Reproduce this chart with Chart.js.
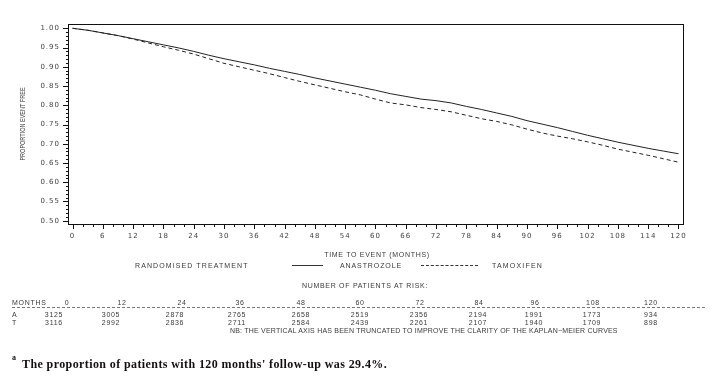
<!DOCTYPE html>
<html><head><meta charset="utf-8">
<script src="https://cdn.jsdelivr.net/npm/chart.js@4"></script>
<style>
html,body{margin:0;padding:0;background:#fff;}
#wrap{position:relative;width:716px;height:381px;overflow:hidden;background:#fff;}
#c{position:absolute;left:0;top:0;}
.t{position:absolute;font-family:"Liberation Sans",Arial,sans-serif;font-size:7px;color:#3a3a3a;white-space:nowrap;letter-spacing:0.7px;line-height:7px;}
.c{transform:translateX(-50%);}
.ln{position:absolute;height:0;}
#foot{position:absolute;left:22px;top:357px;font-family:"Liberation Serif","Times New Roman",serif;font-weight:bold;font-size:12px;color:#151010;white-space:nowrap;letter-spacing:0.4px;}
#sup{position:absolute;left:12px;top:353px;font-family:"Liberation Serif",serif;font-weight:bold;font-size:8px;color:#151010;}
#ytitle{position:absolute;left:22px;top:124px;font-family:"Liberation Sans Narrow","Liberation Sans",sans-serif;font-size:6.5px;color:#3a3a3a;white-space:nowrap;transform:translate(-50%,-50%) rotate(-90deg) scaleX(0.85);}
</style>
</head><body>
<div id="wrap">
<canvas id="c" width="716" height="381"></canvas>
<div id="ytitle">PROPORTION EVENT FREE</div>
<div class="t c" style="left:377px;top:251px;">TIME TO EVENT (MONTHS)</div>
<div class="t" style="left:135px;top:262px;letter-spacing:1.1px;">RANDOMISED TREATMENT</div>
<div class="ln" style="left:292px;top:265px;width:31px;border-top:1px solid #333;"></div>
<div class="t" style="left:340px;top:262px;letter-spacing:0.9px;">ANASTROZOLE</div>
<div class="ln" style="left:421px;top:265px;width:57px;border-top:1px dashed #333;"></div>
<div class="t" style="left:492px;top:262px;letter-spacing:1.2px;">TAMOXIFEN</div>
<div class="t c" style="left:365px;top:282px;">NUMBER OF PATIENTS AT RISK:</div>
<div id="table"></div>
<div class="ln" style="left:12px;top:307px;width:693px;border-top:1px dashed #777;"></div>
<div class="t" style="left:230px;top:327px;letter-spacing:0.2px;">NB: THE VERTICAL AXIS HAS BEEN TRUNCATED TO IMPROVE THE CLARITY OF THE KAPLAN−MEIER CURVES</div>
<div id="sup">a</div>
<div id="foot">The proportion of patients with 120 months' follow-up was 29.4%.</div>
</div>
<script>
// ---- data ----
const months = [0,3,6,9,12,15,18,21,24,27,30,33,36,39,42,45,48,51,54,57,60,63,66,69,72,75,78,81,84,87,90,93,96,99,102,105,108,111,114,117,120];
const anastrozole = [1.000,0.995,0.988,0.981,0.973,0.965,0.957,0.949,0.940,0.930,0.921,0.913,0.905,0.896,0.888,0.880,0.871,0.863,0.855,0.847,0.839,0.830,0.823,0.816,0.812,0.806,0.797,0.789,0.780,0.771,0.760,0.751,0.742,0.732,0.722,0.713,0.704,0.696,0.688,0.681,0.674];
const tamoxifen   = [1.000,0.995,0.988,0.981,0.972,0.962,0.952,0.943,0.933,0.921,0.909,0.900,0.891,0.882,0.872,0.862,0.853,0.844,0.835,0.827,0.816,0.806,0.801,0.794,0.789,0.783,0.774,0.765,0.758,0.749,0.738,0.728,0.720,0.713,0.705,0.696,0.686,0.678,0.670,0.661,0.652];
const seriesNames = ['ANASTROZOLE','TAMOXIFEN'];
const riskMonths = [0,12,24,36,48,60,72,84,96,108,120];
const riskA = [3125,3005,2878,2765,2658,2519,2356,2194,1991,1773,934];
const riskT = [3116,2992,2836,2711,2584,2439,2261,2107,1940,1709,898];
const rowLabels = ['A','T'];

// ---- layout for the at-risk table (positions only) ----
const headerX = [67,122,182,240,301,360,420,479,535,593,651];
const valueX  = [54,111,175,237,301,360,419,478,534,592,651];
const tbl = document.getElementById('table');
function addText(txt, x, y, center){
  const d = document.createElement('div');
  d.className = 't' + (center ? ' c' : '');
  d.style.left = x + 'px'; d.style.top = y + 'px';
  d.textContent = txt; tbl.appendChild(d);
}
addText('MONTHS', 12, 299, false);
riskMonths.forEach((m,i)=>addText(String(m), headerX[i], 299, true));
addText(rowLabels[0], 12, 311, false);
addText(rowLabels[1], 12, 319, false);
riskA.forEach((v,i)=>addText(String(v), valueX[i], 311, true));
riskT.forEach((v,i)=>addText(String(v), valueX[i], 319, true));

// ---- chart ----
const frame = {
  id:'frame',
  beforeDraw(chart){ chart.ctx.letterSpacing = '1px'; },
  beforeDatasetsDraw(chart){
    const {ctx, chartArea:a, scales:{x,y}} = chart;
    ctx.save();
    ctx.letterSpacing = '0px';
    ctx.strokeStyle = '#111'; ctx.lineWidth = 1;
    ctx.strokeRect(Math.round(a.left)+0.5, Math.round(a.top)+0.5, Math.round(a.right-a.left), Math.round(a.bottom-a.top));
    ctx.beginPath();
    x.ticks.forEach(t=>{
      const px = Math.round(x.getPixelForValue(t.value))+0.5;
      const len = (Math.round(t.value)%6===0) ? 5 : 3;
      ctx.moveTo(px, a.bottom); ctx.lineTo(px, a.bottom+len);
    });
    y.ticks.forEach((t,i)=>{
      const py = Math.round(y.getPixelForValue(t.value))+0.5;
      const len = (i%5===0) ? 5 : 2;
      ctx.moveTo(a.left, py); ctx.lineTo(a.left-len, py);
    });
    ctx.stroke();
    ctx.restore();
  }
};

new Chart(document.getElementById('c'), {
  type:'line',
  data:{
    datasets:[
      {label:seriesNames[0], data:months.map((m,i)=>({x:m,y:anastrozole[i]})), borderColor:'#222', borderWidth:1, pointRadius:0, tension:0, fill:false},
      {label:seriesNames[1], data:months.map((m,i)=>({x:m,y:tamoxifen[i]})), borderColor:'#222', borderWidth:1, borderDash:[4,3], pointRadius:0, tension:0, fill:false}
    ]
  },
  options:{
    responsive:false, animation:false, devicePixelRatio:1,
    layout:{padding:{left:0,right:33,top:24,bottom:127}},
    plugins:{legend:{display:false}, tooltip:{enabled:false}},
    scales:{
      x:{type:'linear', min:-0.9, max:120.9,
        afterBuildTicks(s){ const t=[]; for(let v=0; v<=120; v+=2) t.push({value:v}); s.ticks=t; },
        afterFit(s){ s.height = 30; },
        grid:{display:false, drawTicks:false}, border:{display:false},
        ticks:{autoSkip:false, maxRotation:0, padding:8, color:'#444', font:{family:'DejaVu Sans', size:7},
          callback:(v)=> (Math.round(v)%6===0 ? String(Math.round(v)) : '')}
      },
      y:{type:'linear', min:0.4914, max:1.0112,
        afterBuildTicks(s){ const t=[]; for(let i=50;i<=100;i++) t.push({value:i/100}); s.ticks=t; },
        afterFit(s){ s.width = 68; },
        grid:{display:false, drawTicks:false}, border:{display:false},
        ticks:{autoSkip:false, padding:8, color:'#444', font:{family:'DejaVu Sans', size:7},
          callback:(v,i)=> (i%5===0 ? Number(v).toFixed(2) : '')}
      }
    }
  },
  plugins:[frame]
});
</script>
</body></html>
